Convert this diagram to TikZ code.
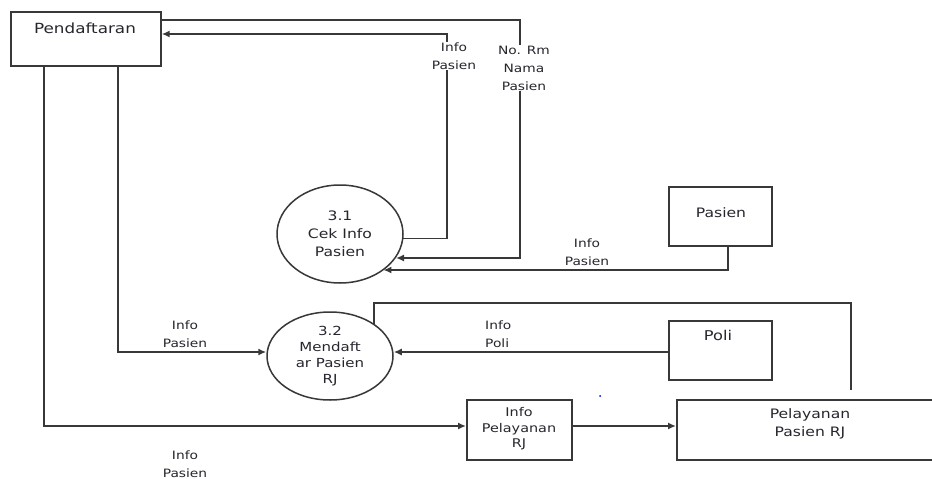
\documentclass[tikz,border=0pt]{standalone}
\usepackage{fontspec}
\setmainfont{DejaVu Sans}[FakeStretch=1.2]
\usetikzlibrary{shapes.geometric,arrows.meta}
\definecolor{ln}{HTML}{383838}
\definecolor{tx}{HTML}{26262E}
\begin{document}
\begin{tikzpicture}[x=1pt,y=-1pt,
  box/.style={draw=ln,line width=1.7pt,rectangle,inner sep=0pt,anchor=north west},
  proc/.style={draw=ln,line width=1.5pt,ellipse,inner sep=0pt,align=center,text=tx},
  flow/.style={draw=ln,line width=1.7pt},
  arr/.style={flow,-{Latex[length=8pt,width=7pt]}},
  lbl/.style={text=tx,align=center,font=\fontsize{11.5}{18}\selectfont,inner sep=1pt},
  ttl/.style={text=tx,align=center,inner sep=0pt}]
\clip (0,0) rectangle (932,479);
\fill[white] (0,0) rectangle (932,479);
% entities
\node[box,minimum width=150pt,minimum height=54pt] (pend) at (10,11) {};
\node[ttl,font=\fontsize{14}{17}\selectfont] (pendT) at (85,28) {Pendaftaran};
\node[proc,minimum width=126pt,minimum height=98pt,font=\fontsize{13}{18}\selectfont] (c31) at (340,234) {3.1\\Cek Info\\Pasien};
\node[proc,minimum width=126pt,minimum height=88pt,font=\fontsize{12.5}{16}\selectfont] (c32) at (330,356) {3.2\\Mendaft\\ar Pasien\\RJ};
\node[box,minimum width=103pt,minimum height=59pt] (pas) at (668,186) {};
\node[ttl,font=\fontsize{13}{17}\selectfont] (pasT) at (721,213) {Pasien};
\node[box,minimum width=103pt,minimum height=59pt] (poli) at (668,320) {};
\node[ttl,font=\fontsize{13.5}{17}\selectfont] (poliT) at (718,335) {Poli};
\node[box,minimum width=105pt,minimum height=60pt] (info) at (466,399) {};
\node[ttl,font=\fontsize{12}{15.5}\selectfont] (infoT) at (519,429) {Info\\Pelayanan\\RJ};
\node[box,minimum width=270pt,minimum height=60pt] (pel) at (676,399) {};
\node[ttl,font=\fontsize{13}{18}\selectfont] (pelT) at (810,424) {Pelayanan\\Pasien RJ};
% flow 1: Pendaftaran -> 3.1
\coordinate (a1) at (520,20);
\coordinate (a1b) at (520,258);
\draw[arr] (pend.east |- a1) -- (a1) -- (a1b) -- (a1b -| c31.-23.6);
\node[lbl,fill=white] (l1) at (524,68) {No. Rm\\Nama\\Pasien};
% flow 2: 3.1 -> Pendaftaran
\coordinate (b1) at (447,238);
\coordinate (b2) at (447,34);
\draw[arr] (c31.-4) -- (c31.-4 -| b1) -- (b2) -- (b2 -| pend.east);
\node[lbl,fill=white] (l2) at (454,56) {Info\\Pasien};
% flow 3: Pasien -> 3.1
\coordinate (c1) at (728,270);
\draw[arr] (pas.south -| c1) -- (c1) -- (c1 -| c31.-40);
\node[lbl] (l3) at (587,252) {Info\\Pasien};
% flow 4: Pendaftaran -> 3.2
\coordinate (d1) at (118,352);
\draw[arr] (pend.south -| d1) -- (d1) -- (d1 -| c32.west);
\node[lbl] (l4) at (185,334) {Info\\Pasien};
% flow 5: Poli -> 3.2
\draw[arr] (poli.west |- d1) -- (d1 -| c32.east);
\node[lbl,align=left,anchor=west] (l5) at (484,334) {Info\\Poli};
% flow 6: 3.2 -> Pelayanan
\coordinate (e1) at (851,303);
\coordinate (e2) at (851,390);
\draw[flow] (c32.36) |- (e1) -- (e2);
% flow 7: Pendaftaran -> Info Pelayanan RJ
\coordinate (f1) at (44,426);
\draw[arr] (pend.south -| f1) -- (f1) -- (f1 -| info.west);
\node[lbl] (l7) at (185,464) {Info\\Pasien};
% flow 8
\draw[arr] (info.east |- f1) -- (pel.west |- f1);
\fill[blue] (600,396) circle (1pt);
\end{tikzpicture}
\end{document}
